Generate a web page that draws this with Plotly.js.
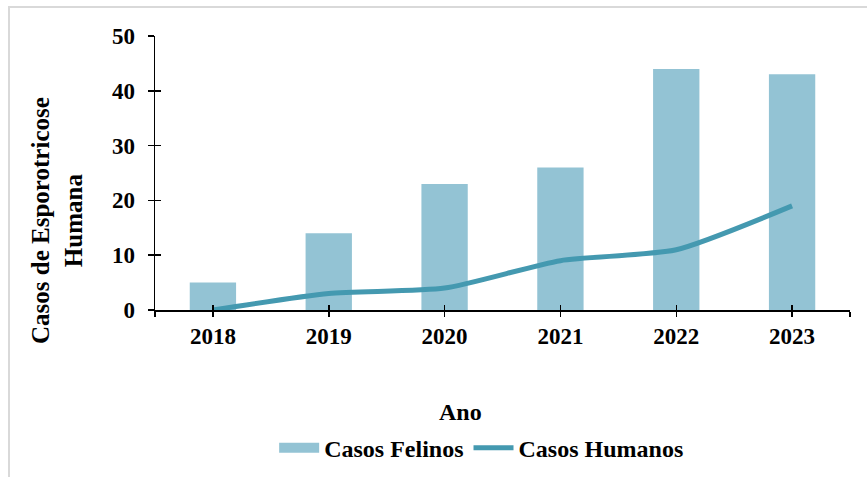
<!DOCTYPE html>
<html>
<head>
<meta charset="utf-8">
<script src="https://cdn.plot.ly/plotly-3.0.1.min.js"></script>
<style>
  html, body { margin: 0; padding: 0; background: #fff; }
  #chart { width: 867px; height: 477px; position: absolute; left: 0; top: 0; }
  #frame { position: absolute; left: 8px; top: 6px; width: 900px; height: 500px;
           border-top: 2px solid #d9d9d9; border-left: 2px solid #d9d9d9; pointer-events: none; }
</style>
</head>
<body>
<div id="chart"></div>
<div id="frame"></div>
<script>
const years = [2018, 2019, 2020, 2021, 2022, 2023];
const felinos = [5, 14, 23, 26, 44, 43];
const humanos = [0, 3, 4, 9, 11, 19];
const yTicks = [0, 10, 20, 30, 40, 50];
const seriesNames = ['Casos Felinos', 'Casos Humanos'];
const xTitle = 'Ano';
const yTitle = 'Casos de Esporotricose<br>Humana';

const barColor = '#93c3d4';
const lineColor = '#4499b0';
const FONT = '"Liberation Serif", "Times New Roman", serif';

const xTickVals = [years[0] - 0.5].concat(years, [years[years.length - 1] + 0.5]);
const xTickText = [''].concat(years.map(String), ['']);
const xRange = [years[0] - 0.5, years[years.length - 1] + 0.5];

const traces = [
  { type: 'bar', x: years, y: felinos, name: seriesNames[0], width: 0.4,
    marker: { color: barColor }, showlegend: false, xaxis: 'x', yaxis: 'y' },
  { type: 'scatter', mode: 'lines', x: [null], y: [null], name: seriesNames[0],
    line: { color: barColor, width: 12 }, xaxis: 'x', yaxis: 'y', hoverinfo: 'skip' },
  { type: 'scatter', mode: 'lines', x: years, y: humanos, name: seriesNames[1],
    line: { color: lineColor, width: 5, shape: 'spline', smoothing: 0.6 }, xaxis: 'x', yaxis: 'y' }
];

const layout = {
  width: 867, height: 477,
  margin: { l: 155, r: 17, t: 36, b: 167, autoexpand: false },
  paper_bgcolor: 'rgba(0,0,0,0)', plot_bgcolor: 'rgba(0,0,0,0)',
  font: { family: FONT, color: '#000', size: 23, weight: 'bold' },
  xaxis: {
    type: 'linear', range: xRange, tickmode: 'array', tickvals: xTickVals, ticktext: xTickText,
    showline: true, linecolor: '#000', linewidth: 1.5, ticks: 'outside', ticklen: 5, tickwidth: 1.5,
    tickcolor: '#000', showgrid: false, zeroline: false,
    tickfont: { family: FONT, size: 23, weight: 'bold', color: '#000' }
  },
  xaxis2: {
    type: 'linear', overlaying: 'x', anchor: 'y', range: xRange, tickmode: 'array', tickvals: xTickVals,
    showticklabels: false, ticks: 'inside', ticklen: 5, tickwidth: 1.5, tickcolor: '#000',
    showline: false, showgrid: false, zeroline: false
  },
  yaxis: {
    range: [0, 50], tickmode: 'array', tickvals: yTicks,
    showline: true, linecolor: '#000', linewidth: 1.5, ticks: 'outside', ticklen: 6, tickwidth: 1.5,
    tickcolor: '#000', showgrid: false, zeroline: false, ticklabelstandoff: 8,
    tickfont: { family: FONT, size: 23, weight: 'bold', color: '#000' }
  },
  yaxis2: {
    overlaying: 'y', anchor: 'x', side: 'left', range: [0, 50], tickmode: 'array', tickvals: yTicks,
    showticklabels: false, ticks: 'inside', ticklen: 6, tickwidth: 1.5, tickcolor: '#000',
    showline: false, showgrid: false, zeroline: false
  },
  annotations: [
    { text: yTitle, xref: 'paper', yref: 'paper', x: -0.141, y: 0.325, textangle: -90,
      showarrow: false, xanchor: 'center', yanchor: 'middle',
      font: { family: FONT, size: 25, weight: 'bold', color: '#000' } },
    { text: xTitle, xref: 'paper', yref: 'paper', x: 0.440, y: -0.372,
      showarrow: false, xanchor: 'center', yanchor: 'middle',
      font: { family: FONT, size: 24, weight: 'bold', color: '#000' } }
  ],
  legend: {
    orientation: 'h', x: 0.47, xanchor: 'center', y: -0.504, yanchor: 'middle',
    font: { family: FONT, size: 24, weight: 'bold', color: '#000' },
    bgcolor: 'rgba(0,0,0,0)', itemwidth: 40, traceorder: 'normal'
  },
  showlegend: true
};

// dummy trace to render the overlay axes
traces.push({ type: 'scatter', x: [null], y: [null], xaxis: 'x2', yaxis: 'y2', showlegend: false, hoverinfo: 'skip' });

Plotly.newPlot('chart', traces, layout, { displayModeBar: false, staticPlot: true });
</script>
</body>
</html>
